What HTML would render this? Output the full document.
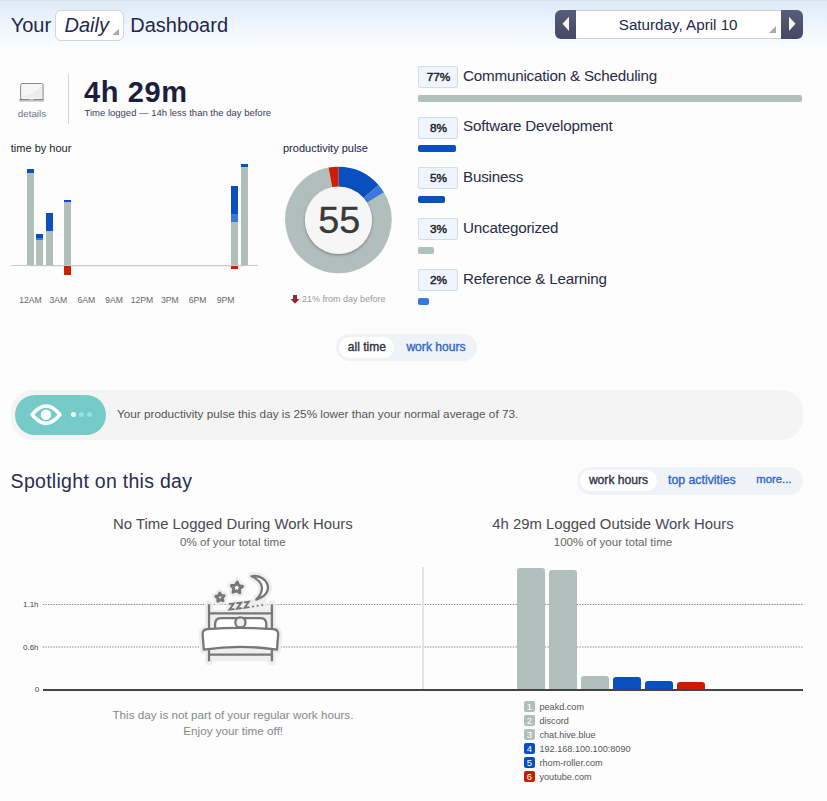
<!DOCTYPE html>
<html><head><meta charset="utf-8">
<style>
*{box-sizing:border-box;margin:0;padding:0}
html,body{width:827px;height:801px;overflow:hidden;background:#fdfdfd;font-family:"Liberation Sans",sans-serif}
.t{position:absolute;line-height:1;white-space:nowrap}
.abs{position:absolute}
.sb2{-webkit-text-stroke:0.35px currentColor}
#hdr{position:absolute;left:0;top:0;width:827px;height:60px;background:linear-gradient(#deebfa 0px,#e4eefb 8px,#f3f8fd 32px,#fdfdfe 50px);border-top:1px solid #d9e2ec}
.badge{position:absolute;left:418px;width:40px;height:22px;background:#eef5fd;border:1px solid #d6dce4;border-radius:2px;font-size:11.8px;-webkit-text-stroke:0.45px #222;color:#222;text-align:center;line-height:20.5px;padding-left:1px}
.cat{position:absolute;left:463px;font-size:15.2px;letter-spacing:-0.2px;color:#2a2c44;line-height:1;white-space:nowrap}
.cbar{position:absolute;left:418px;height:7px;border-radius:2px}
.hb{position:absolute;width:7px}
.xl{position:absolute;top:295.7px;font-size:8.6px;color:#666;width:30px;text-align:center;line-height:1}
.leg{position:absolute;left:524px;width:11px;height:11px;border-radius:2px;color:#fff;font-size:9.5px;line-height:11.5px;text-align:center}
.legt{position:absolute;left:539.5px;font-size:9.1px;color:#555;line-height:1;white-space:nowrap}
.sb{position:absolute;width:28px;border-radius:3px 3px 0 0}
</style></head><body>
<div id="hdr"></div>
<!-- header title -->
<div class="t" style="left:10.7px;top:15.4px;font-size:20px;color:#25284a">Your</div>
<div class="abs" style="left:55px;top:10px;width:69px;height:31px;background:#fff;border:1px solid #d3d3d8;border-radius:6px"></div>
<div class="t" style="left:64.5px;top:15.4px;font-size:20px;font-style:italic;color:#25284a">Daily</div>
<svg class="abs" style="left:112px;top:28px" width="8" height="8"><path d="M0.5 7 L7 7 L7 0.5Z" fill="#aaa"/></svg>
<div class="t" style="left:130.2px;top:15.4px;font-size:20px;color:#25284a">Dashboard</div>

<!-- date picker -->
<div class="abs" style="left:576px;top:10px;width:205px;height:29px;background:#fff;border-top:1px solid #cfcfcf;border-bottom:1px solid #cfcfcf"></div>
<div class="abs" style="left:555px;top:10px;width:21px;height:29px;background:linear-gradient(#595c7a,#464964);border-radius:6px 0 0 6px"></div>
<div class="abs" style="left:781px;top:10px;width:22px;height:29px;background:linear-gradient(#595c7a,#464964);border-radius:0 6px 6px 0"></div>
<svg class="abs" style="left:561px;top:16px" width="10" height="16"><path d="M1.5 7.8 L8 0.8 L8 15 Z" fill="#f8f6ea"/></svg>
<svg class="abs" style="left:787px;top:16px" width="10" height="16"><path d="M8.5 7.8 L2 0.8 L2 15 Z" fill="#f8f6ea"/></svg>
<div class="t" style="left:618.8px;top:17px;font-size:15.2px;color:#25284a">Saturday, April 10</div>
<svg class="abs" style="left:768px;top:25px" width="9" height="9"><path d="M1 8 L8 8 L8 1Z" fill="#aaa"/></svg>

<!-- laptop icon + details -->
<svg class="abs" style="left:14px;top:78px" width="36" height="28" viewBox="14 78 36 28">
 <rect x="20.6" y="83.5" width="22.6" height="16" rx="1.6" fill="#f6f6f6" stroke="#8d8d8d" stroke-width="1"/>
 <path d="M42.7 84.5 V99.5" stroke="#c2c2c2" stroke-width="1.2"/>
 <path d="M22.8 96.5 Q34 94 41.2 86.5 L41.2 97.6 L22.8 97.6Z" fill="#ececec"/>
 <rect x="19.1" y="99.2" width="24.9" height="2.6" rx="1" fill="#c8c8c8"/>
 <rect x="19.6" y="99.1" width="23.9" height="1" fill="#7d7d7d"/>
 <rect x="29.5" y="99.1" width="4.2" height="1" fill="#c9c9c9"/>
</svg>
<div class="t" style="left:17.8px;top:109.2px;font-size:9.8px;color:#6f7480">details</div>
<div class="abs" style="left:68px;top:74px;width:1px;height:50px;background:#d5d5d5"></div>
<div class="t" style="left:84px;top:78.4px;font-size:29px;font-weight:bold;letter-spacing:0.6px;color:#1b1e3c">4h 29m</div>
<div class="t" style="left:84.5px;top:107.8px;font-size:9.5px;color:#3a3c55">Time logged — 14h less than the day before</div>

<!-- time by hour -->
<div class="t" style="left:10.8px;top:142.6px;font-size:11px;color:#222">time by hour</div>
<div class="abs" style="left:11px;top:265px;width:247px;height:1px;background:#c6c8cc"></div><div class="abs" style="left:30px;top:266px;width:214px;height:1px;background:rgba(190,225,180,0.3)"></div>
<div class="hb" style="left:27.00px;top:169.30px;height:95.70px;background:linear-gradient(to bottom,#0a4fc0 0.00px 3.70px,#b1bfbc 3.70px 95.70px)"></div>
<div class="hb" style="left:36.29px;top:233.50px;height:31.50px;background:linear-gradient(to bottom,#0a4fc0 0.00px 3.70px,#3b78dd 3.70px 6.30px,#b1bfbc 6.30px 31.50px)"></div>
<div class="hb" style="left:45.57px;top:213.20px;height:51.80px;background:linear-gradient(to bottom,#0a4fc0 0.00px 18.30px,#b1bfbc 18.30px 51.80px)"></div>
<div class="hb" style="left:64.14px;top:200.20px;height:64.80px;background:linear-gradient(to bottom,#0a4fc0 0.00px 2.10px,#b1bfbc 2.10px 64.80px)"></div>
<div class="hb" style="left:64.14px;top:266.00px;height:9.20px;background:#d21c00"></div>
<div class="hb" style="left:231.29px;top:186.00px;height:79.00px;background:linear-gradient(to bottom,#0a4fc0 0.00px 28.10px,#3b78dd 28.10px 36.20px,#b1bfbc 36.20px 79.00px)"></div>
<div class="hb" style="left:231.29px;top:266.00px;height:2.60px;background:#d21c00"></div>
<div class="hb" style="left:240.58px;top:163.80px;height:101.20px;background:linear-gradient(to bottom,#0a4fc0 0.00px 3.20px,#b1bfbc 3.20px 101.20px)"></div>
<div class="xl" style="left:15.50px">12AM</div>
<div class="xl" style="left:43.36px">3AM</div>
<div class="xl" style="left:71.22px">6AM</div>
<div class="xl" style="left:99.07px">9AM</div>
<div class="xl" style="left:126.93px">12PM</div>
<div class="xl" style="left:154.79px">3PM</div>
<div class="xl" style="left:182.65px">6PM</div>
<div class="xl" style="left:210.51px">9PM</div>

<!-- productivity pulse -->
<div class="t" style="left:283px;top:142.6px;font-size:11px;color:#1e2040">productivity pulse</div>
<svg class="abs" style="left:280px;top:160px" width="120" height="120" viewBox="280 160 120 120">
<path d="M338.40 176.55 A43.35 43.35 0 0 1 371.12 191.46" fill="none" stroke="#0a4fc0" stroke-width="19.7"/>
<path d="M371.12 191.46 A43.35 43.35 0 0 1 375.56 197.57" fill="none" stroke="#3b78dd" stroke-width="19.7"/>
<path d="M375.56 197.57 A43.35 43.35 0 1 1 330.35 177.30" fill="none" stroke="#b1bfbc" stroke-width="19.7"/>
<path d="M330.35 177.30 A43.35 43.35 0 0 1 338.40 176.55" fill="none" stroke="#d21c00" stroke-width="19.7"/>
</svg>
<div class="abs" style="left:304.9px;top:186.6px;width:67.2px;height:67.2px;border-radius:50%;background:#f6f6f6;box-shadow:0 1px 3px rgba(0,0,0,0.35)"></div>
<div class="t" style="left:318.2px;top:201.9px;font-size:37.8px;color:#3a3a3a;-webkit-text-stroke:0.35px #3a3a3a">55</div>
<svg class="abs" style="left:290px;top:295px" width="10" height="9" viewBox="0 0 10 9"><path d="M3 0 H7 V4 H9.5 L5 8.8 L0.5 4 H3Z" fill="#8e2a3a"/></svg>
<div class="t" style="left:302px;top:295.2px;font-size:9px;color:#999">21% from day before</div>

<!-- categories -->
<div class="badge" style="top:66px">77%</div>
<div class="cat" style="top:68.23px">Communication &amp; Scheduling</div>
<div class="cbar" style="top:95px;width:384px;background:#b1bfbc"></div>

<div class="badge" style="top:116.5px">8%</div>
<div class="cat" style="top:118.23px">Software Development</div>
<div class="cbar" style="top:145px;width:38px;background:#0a4fc0"></div>

<div class="badge" style="top:167.3px">5%</div>
<div class="cat" style="top:169.33px">Business</div>
<div class="cbar" style="top:196px;width:27px;background:#0a4fc0"></div>

<div class="badge" style="top:218.3px">3%</div>
<div class="cat" style="top:220.33px">Uncategorized</div>
<div class="cbar" style="top:247px;width:16px;background:#b1bfbc"></div>

<div class="badge" style="top:269.2px">2%</div>
<div class="cat" style="top:271.23px">Reference &amp; Learning</div>
<div class="cbar" style="top:298px;width:11px;background:#3b78dd"></div>

<!-- all time / work hours toggle -->
<div class="abs" style="left:336px;top:334px;width:141px;height:27px;border-radius:14px;background:#eff2f6"></div>
<div class="abs" style="left:339px;top:337px;width:55px;height:21px;border-radius:11px;background:#fff"></div>
<div class="t sb2" style="left:347.8px;top:340.7px;font-size:12px;color:#2f3145">all time</div>
<div class="t sb2" style="left:406.4px;top:340.7px;font-size:12.1px;color:#2f66c9">work hours</div>

<!-- banner -->
<div class="abs" style="left:11px;top:390px;width:792px;height:50px;border-radius:22px;background:#f4f4f5"></div>
<div class="abs" style="left:15px;top:394.5px;width:91px;height:40.5px;border-radius:20px;background:#74cbc7"></div>
<svg class="abs" style="left:28px;top:402px" width="38" height="26" viewBox="0 0 38 26">
 <path d="M4.1 12.7 Q18 -4.7 31.9 12.7 Q18 30 4.1 12.7Z" fill="none" stroke="#fff" stroke-width="3.7" stroke-linejoin="round"/>
 <circle cx="17.95" cy="12.7" r="5.2" fill="#fff"/>
</svg>
<div class="abs" style="left:70.8px;top:412px;width:5px;height:5px;border-radius:50%;background:#fff"></div>
<div class="abs" style="left:79px;top:412px;width:5px;height:5px;border-radius:50%;background:#95e3e0"></div>
<div class="abs" style="left:87px;top:412px;width:5px;height:5px;border-radius:50%;background:#95e3e0"></div>
<div class="t" style="left:117px;top:408.2px;font-size:11.75px;color:#555">Your productivity pulse this day is 25% lower than your normal average of 73.</div>

<!-- spotlight -->
<div class="t" style="left:10.6px;top:472.1px;font-size:19.5px;letter-spacing:0.29px;color:#2a2d4f">Spotlight on this day</div>
<div class="abs" style="left:577px;top:467px;width:226px;height:28px;border-radius:14px;background:#eff2f6"></div>
<div class="abs" style="left:580px;top:470px;width:77px;height:21px;border-radius:11px;background:#fff"></div>
<div class="t sb2" style="left:588.9px;top:473.6px;font-size:12.1px;color:#2f3145">work hours</div>
<div class="t sb2" style="left:668px;top:473.6px;font-size:12.3px;color:#2f66c9">top activities</div>
<div class="t sb2" style="left:756.3px;top:473.6px;font-size:11.3px;color:#2f66c9">more...</div>

<div class="t" style="left:113px;top:516.8px;font-size:14.9px;color:#4a4a52">No Time Logged During Work Hours</div>
<div class="t" style="left:180px;top:535.9px;font-size:11.6px;color:#666">0% of your total time</div>
<div class="t" style="left:492.2px;top:516.8px;font-size:14.9px;color:#4a4a52">4h 29m Logged Outside Work Hours</div>
<div class="t" style="left:553.7px;top:535.9px;font-size:11.6px;color:#666">100% of your total time</div>

<!-- chart -->
<div class="t" style="left:23px;top:600.5px;font-size:8px;color:#444">1.1h</div>
<div class="t" style="left:23px;top:643.5px;font-size:8px;color:#444">0.6h</div>
<div class="t" style="left:34.8px;top:685.5px;font-size:8px;color:#444">0</div>
<svg class="abs" style="left:0;top:595px" width="827" height="60" viewBox="0 595 827 60"><path d="M42.8 604.5 H803 M42.8 647 H803" stroke="#8a8a8a" stroke-width="1" stroke-dasharray="1.4 1.27" fill="none"/></svg>

<div class="abs" style="left:422.2px;top:567.3px;width:2px;height:122px;background:#e4e4e4"></div>
<div class="sb" style="left:517px;top:567.5px;height:121.5px;background:#b1bfbc"></div>
<div class="sb" style="left:549px;top:570.4px;height:118.6px;background:#b1bfbc"></div>
<div class="sb" style="left:581px;top:675.7px;height:13.3px;background:#b1bfbc"></div>
<div class="sb" style="left:613px;top:677px;height:12px;background:#0a4fc0"></div>
<div class="sb" style="left:645px;top:680.7px;height:8.3px;background:#0a4fc0"></div>
<div class="sb" style="left:677px;top:682.3px;height:6.7px;background:#cc1c00"></div>
<div class="abs" style="left:43px;top:688.6px;width:760px;height:2px;background:#444"></div>

<!-- bed icon placeholder -->
<svg class="abs" style="left:190px;top:565px" width="100" height="105" viewBox="190 565 100 105">
<g fill="#eeeeee" stroke="#eeeeee" stroke-width="7.8" stroke-linejoin="round" stroke-linecap="round">
<path d="M209 604.3 V661.3 M271.9 604.3 V661.3 M209 613.4 H271.9 M209 654.7 H271.9" fill="none"/>
<rect x="209" y="613.4" width="62.9" height="48" stroke="none"/>
<path d="M215.1 629 V624.2 Q215.1 618.2 221.1 618.2 H260.3 Q266.3 618.2 266.3 624.2 V629"/>
<path d="M202.6 634.2 Q202.6 629.6 207.2 629.1 Q240.3 626.6 273.6 629.1 Q278.2 629.6 278.2 634.2 L277 649.6 Q240.3 644.1 203.8 649.6 Z"/>
<polygon points="219.72,593.02 221.28,595.43 224.15,595.68 222.34,597.92 222.99,600.72 220.30,599.69 217.83,601.17 217.98,598.30 215.81,596.41 218.59,595.66"/>
<polygon points="237.31,581.92 238.77,585.54 242.55,586.47 239.56,588.97 239.84,592.86 236.54,590.79 232.93,592.25 233.88,588.47 231.37,585.49 235.25,585.23"/>
<path d="M251.6 576.3 C267.5 573.5 276.5 593.5 256.3 599.6 C264.6 591.2 264.3 582 251.6 576.3Z"/>
<path d="M228.5 604.5 L264 600.5 L264.5 607 L229 610.5Z" stroke-width="5"/>
</g>
<g fill="#fff" stroke="#777" stroke-width="2.3" stroke-linejoin="round" stroke-linecap="butt">
<path d="M209 604.3 V661.3 M271.9 604.3 V661.3 M209 613.4 H271.9 M209 654.7 H271.9" fill="none"/>
<path d="M215.1 629 V624.2 Q215.1 618.2 221.1 618.2 H260.3 Q266.3 618.2 266.3 624.2 V629"/>
<circle cx="240.4" cy="622.4" r="5.1" fill="#f1f1f1"/>
<path d="M202.6 634.2 Q202.6 629.6 207.2 629.1 Q240.3 626.6 273.6 629.1 Q278.2 629.6 278.2 634.2 L277 649.6 Q240.3 644.1 203.8 649.6 Z"/>
<polygon points="219.72,593.02 221.28,595.43 224.15,595.68 222.34,597.92 222.99,600.72 220.30,599.69 217.83,601.17 217.98,598.30 215.81,596.41 218.59,595.66" stroke-width="2.9"/>
<polygon points="237.31,581.92 238.77,585.54 242.55,586.47 239.56,588.97 239.84,592.86 236.54,590.79 232.93,592.25 233.88,588.47 231.37,585.49 235.25,585.23" stroke-width="2.9"/>
<path d="M251.6 576.3 C267.5 573.5 276.5 593.5 256.3 599.6 C264.6 591.2 264.3 582 251.6 576.3Z"/>
</g>
<g fill="none" stroke="#777" stroke-width="1.9" stroke-linejoin="miter" stroke-linecap="butt" transform="rotate(-7 245 605)">
<path d="M229.0 602.2 h5 l-5 5.5 h5"/>
<path d="M236.6 602.2 h5 l-5 5.5 h5"/>
<path d="M244.2 602.2 h5 l-5 5.5 h5"/>
</g>
<circle cx="253.0" cy="606.5" r="1.05" fill="#777"/>
<circle cx="257.6" cy="605.8" r="1.05" fill="#777"/>
<circle cx="262.2" cy="605.1" r="1.05" fill="#777"/>
</svg>

<div class="t" style="left:112.4px;top:709px;font-size:11.7px;color:#888">This day is not part of your regular work hours.</div>
<div class="t" style="left:183.3px;top:725px;font-size:11.7px;color:#888">Enjoy your time off!</div>

<!-- legend -->
<div class="leg" style="top:701px;background:#b1bfbc">1</div><div class="legt" style="top:702.5px">peakd.com</div>
<div class="leg" style="top:715px;background:#b1bfbc">2</div><div class="legt" style="top:716.5px">discord</div>
<div class="leg" style="top:729px;background:#b1bfbc">3</div><div class="legt" style="top:730.5px">chat.hive.blue</div>
<div class="leg" style="top:743px;background:#0a4fc0">4</div><div class="legt" style="top:744.5px">192.168.100.100:8090</div>
<div class="leg" style="top:757px;background:#0a4fc0">5</div><div class="legt" style="top:758.5px">rhom-roller.com</div>
<div class="leg" style="top:771px;background:#cc1c00">6</div><div class="legt" style="top:772.5px">youtube.com</div>
</body></html>
